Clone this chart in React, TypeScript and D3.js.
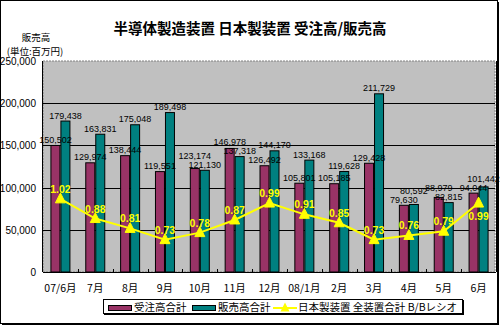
import React from "react";
import * as d3 from "d3";

const categories = ["07/6月", "7月", "8月", "9月", "10月", "11月", "12月", "08/1月", "2月", "3月", "4月", "5月", "6月"];
const orders = [150502, 129974, 138444, 119551, 123174, 146978, 126492, 105801, 105185, 129428, 79630, 88979, 94044];
const sales = [179438, 163831, 175048, 189498, 121130, 137318, 144170, 133168, 119628, 211729, 80592, 82815, 101442];
const ratio = [1.02, 0.88, 0.81, 0.73, 0.78, 0.87, 0.99, 0.91, 0.85, 0.73, 0.76, 0.79, 0.99];
const yTicks = [0, 50000, 100000, 150000, 200000, 250000];
const ratioTicks = [1.0, 1.5];
const seriesNames = ["受注高合計", "販売高合計", "日本製装置 全装置合計 B/Bレシオ"];
const title = "半導体製造装置 日本製装置 受注高/販売高";

const W = 500, H = 326;
const L = 43, R = 496, T = 61, B = 272;
const PURPLE = "#993366", TEAL = "#008080", GRAY = "#C0C0C0", YELLOW = "#FFFF00";
const JP = "'Noto Sans CJK JP', 'Noto Sans', sans-serif";
const NUM = "'Liberation Sans', Arial, sans-serif";

function tri(cx: number, cy: number, s: number) {
  return `M${cx},${cy - s * 0.6}L${cx + s / 2},${cy + s * 0.4}L${cx - s / 2},${cy + s * 0.4}Z`;
}

export default function App() {
  const x = d3.scaleBand<string>().domain(categories).range([L, R]).paddingInner(0).paddingOuter(0);
  const y = d3.scaleLinear().domain([0, 250000]).range([B, T]);
  const y2 = d3.scaleLinear().domain([0.5, 2.0]).range([B, T]);
  const fmt = d3.format(",");
  const bw = 10;
  const cx = (c: string) => (x(c) as number) + x.bandwidth() / 2;
  const line = d3.line<number>().x((_, i) => cx(categories[i])).y((d) => y2(d));

  // label baselines, nudging the taller bar's label up when the pair collides
  const labelY = categories.map((_, i) => {
    let a = y(orders[i]) - 2;
    let b = y(sales[i]) - 2;
    const gap = 9;
    if (Math.abs(a - b) < gap) {
      if (a <= b) a = b - gap; else b = a - gap;
    }
    return [a, b];
  });

  return (
    <svg width={W} height={H} style={{ position: "absolute", left: 0, top: 0, display: "block", background: "#fff" }}>
      <rect x={0.5} y={0.5} width={497} height={323} fill="#fff" stroke="#000" />
      <line x1={498.5} y1={2} x2={498.5} y2={325} stroke="#000" />
      <line x1={2} y1={324.5} x2={499} y2={324.5} stroke="#000" />

      <text x={250} y={34} textAnchor="middle" fontFamily={JP} fontWeight="bold" fontSize={14.5} fill="#000">{title}</text>
      <text x={36} y={41} textAnchor="middle" fontFamily={JP} fontSize={9.5} fill="#000">販売高</text>
      <text x={35} y={54.5} textAnchor="middle" fontFamily={JP} fontSize={9.5} fill="#000">(単位:百万円)</text>

      <rect x={L} y={T} width={R - L - 1} height={B - T} fill={GRAY} stroke="#808080" strokeDasharray="2,1" />
      {yTicks.filter((t) => t > 0 && t < 250000).map((t) => (
        <line key={t} x1={L} x2={R - 1} y1={Math.round(y(t)) + 0.5} y2={Math.round(y(t)) + 0.5} stroke="#000" />
      ))}
      {yTicks.map((t) => (
        <text key={"l" + t} x={36} y={y(t) + 4} textAnchor="end" fontFamily={NUM} fontSize={10} fill="#000">{fmt(t)}</text>
      ))}
      {categories.map((c, i) => i > 0 ? (
        <line key={"xt" + c} x1={Math.round(x(c) as number) + 0.5} x2={Math.round(x(c) as number) + 0.5} y1={B} y2={B - 3} stroke="#000" />
      ) : null)}
      <line x1={L - 0.5} x2={L - 0.5} y1={T} y2={B} stroke="#000" />
      <line x1={L} x2={R} y1={B + 0.5} y2={B + 0.5} stroke="#000" />
      <line x1={R + 0.5} x2={R + 0.5} y1={T} y2={B} stroke="#000" />
      {ratioTicks.map((t) => (
        <line key={"r" + t} x1={R} x2={R + 3} y1={Math.round(y2(t)) + 0.5} y2={Math.round(y2(t)) + 0.5} stroke="#000" />
      ))}

      {categories.map((c, i) => (
        <g key={c}>
          <rect x={cx(c) - bw + 0.5} y={y(orders[i]) + 0.5} width={bw - 1} height={B - y(orders[i]) - 0.5} fill={PURPLE} stroke="#000" />
          <rect x={cx(c) + 0.5} y={y(sales[i]) + 0.5} width={bw - 1} height={B - y(sales[i]) - 0.5} fill={TEAL} stroke="#000" />
        </g>
      ))}
      {categories.map((c, i) => (
        <g key={"v" + c} fontFamily={NUM} fontSize={9} fill="#000" textAnchor="middle">
          <text x={cx(c) - bw / 2} y={labelY[i][0]}>{fmt(orders[i])}</text>
          <text x={cx(c) + bw / 2} y={labelY[i][1]}>{fmt(sales[i])}</text>
        </g>
      ))}

      <path d={line(ratio) || ""} fill="none" stroke={YELLOW} strokeWidth={2} />
      {ratio.map((r, i) => (
        <path key={"m" + i} d={tri(cx(categories[i]), y2(r), 10)} fill={YELLOW} stroke={YELLOW} />
      ))}
      {ratio.map((r, i) => (
        <text key={"rl" + i} x={cx(categories[i])} y={i === ratio.length - 1 ? y2(r) + 17 : y2(r) - 6}
          textAnchor="middle" fontFamily={NUM} fontWeight="bold" fontSize={10.5} fill={YELLOW}>{r.toFixed(2)}</text>
      ))}

      {categories.map((c) => (
        <text key={"x" + c} x={cx(c)} y={292} textAnchor="middle" fontFamily={JP} fontSize={10.5} fill="#000">{c}</text>
      ))}

      <rect x={104} y={300} width={360} height={15} fill="#000" />
      <rect x={103.5} y={299.5} width={359} height={14} fill="#fff" stroke="#000" />
      <rect x={108.5} y={305.5} width={23} height={5} fill={PURPLE} stroke="#000" />
      <text x={134} y={311} fontFamily={JP} fontSize={10.5} fill="#000">{seriesNames[0]}</text>
      <rect x={192.5} y={305.5} width={23} height={5} fill={TEAL} stroke="#000" />
      <text x={218} y={311} fontFamily={JP} fontSize={10.5} fill="#000">{seriesNames[1]}</text>
      <line x1={273} x2={297} y1={308} y2={308} stroke={YELLOW} strokeWidth={2} />
      <path d={tri(285, 308, 9)} fill={YELLOW} />
      <text x={298} y={311} fontFamily={JP} fontSize={10.5} fill="#000">{seriesNames[2]}</text>
    </svg>
  );
}
